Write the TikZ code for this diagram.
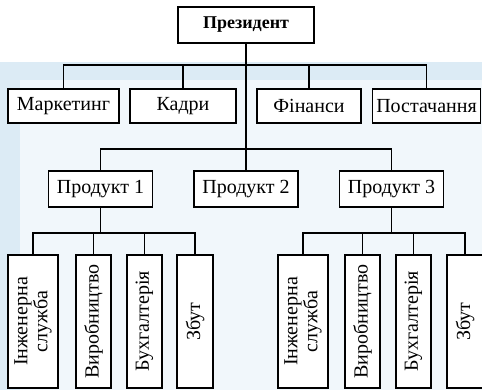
\documentclass[tikz,border=0pt]{standalone}
\usepackage{fontspec}
\setmainfont{Liberation Serif}
\usepackage{xcolor}
\usepackage{tikz}
\definecolor{bgblue}{HTML}{DCEBF5}
\definecolor{bglight}{HTML}{F1F7FB}
\tikzset{
head/.style={
draw,
line width=1.3pt,
minimum width=136pt,
minimum height=36pt,
font=\fontsize{18}{20}\selectfont\bfseries,
fill=white
},
dept/.style={
draw,
line width=1.2pt,
minimum height=34pt,
inner sep=0pt,
font=\fontsize{20}{22}\selectfont,
fill=white
},
prod/.style={
draw,
line width=1.2pt,
minimum width=104pt,
minimum height=36pt,
inner sep=0pt,
font=\fontsize{20}{22}\selectfont,
fill=white
},
unit/.style={
draw,
line width=1.2pt,
rotate=90,
minimum width=133pt,
inner sep=0pt,
align=center,
font=\fontsize{20}{20}\selectfont,
fill=white
},
link/.style={
line width=1.4pt
}
}

\begin{document}
\begin{tikzpicture}[x=1pt,y=-1pt]
\useasboundingbox (0,0) rectangle (482,390);
% background of the page
\fill[bgblue] (0,62) rectangle (482,390);
\fill[bglight] (20,80) rectangle (482,390);

\node[head](pres) at (246,25){Президент};

\node[dept,minimum width=111pt](mark) at (63.5,106){Маркетинг};
\node[dept,minimum width=106pt](kadr) at (183,106){Кадри};
\node[dept,minimum width=104pt](fin) at (309,106){Фінанси};
\node[dept,minimum width=108pt](post) at (426.5,106){Постачання};

\node[prod](prod1) at (100.5,189){Продукт 1};
\node[prod](prod2) at (246,189){Продукт 2};
\node[prod](prod3) at (391.5,189){Продукт 3};

\node[unit,minimum height=50pt](ing1) at (33,321.5){Інженерна\\служба};
\node[unit,minimum height=35pt](vyr1) at (93.5,321.5){Виробництво};
\node[unit,minimum height=35pt](buh1) at (144.5,321.5){Бухгалтерія};
\node[unit,minimum height=36pt](zb1) at (195,321.5){Збут};

\node[unit,minimum height=50pt](ing3) at (303,321.5){Інженерна\\служба};
\node[unit,minimum height=35pt](vyr3) at (362.5,321.5){Виробництво};
\node[unit,minimum height=35pt](buh3) at (413.5,321.5){Бухгалтерія};
\node[unit,minimum height=36pt](zb3) at (465,321.5){Збут};

\coordinate (bus1) at (246,65);
\coordinate (bus2) at (246,149);
\coordinate (bus3) at (100.5,233);
\coordinate (bus4) at (391.5,233);

\draw[link](pres)--(prod2);
\foreach \n in {mark,kadr,fin,post}
\draw[link](\n.north)|-(bus1);
\foreach \n in {prod1,prod3}
\draw[link](\n.north)|-(bus2);

\draw[link](prod1)--(bus3);
\draw[link](prod3)--(bus4);
\foreach \n in {ing1,vyr1,buh1,zb1}
\draw[link](\n.east)|-(bus3);
\foreach \n in {ing3,vyr3,buh3,zb3}
\draw[link](\n.east)|-(bus4);
\end{tikzpicture}
\end{document}
